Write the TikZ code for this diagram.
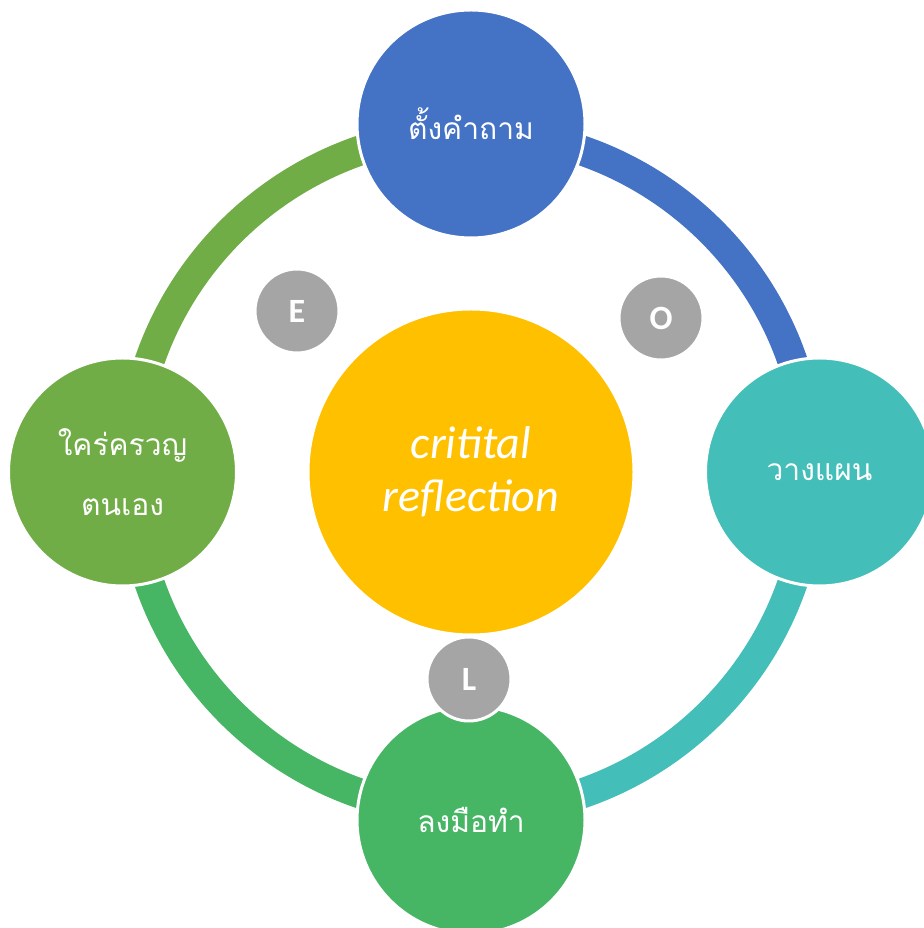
\documentclass[tikz,border=0pt]{standalone}
\usepackage{fontspec}
\setmainfont{Carlito}
\newfontfamily\thaifont[Script=Thai]{Loma}
\usepackage{tikz}
\usetikzlibrary{positioning,backgrounds}
\definecolor{askblue}{HTML}{4472C4}
\definecolor{planteal}{HTML}{43BEB8}
\definecolor{dogreen}{HTML}{46B665}
\definecolor{selfgreen}{HTML}{70AD47}
\definecolor{hubyellow}{HTML}{FFC000}
\definecolor{lettergray}{HTML}{A5A5A5}

\begin{document}
\begin{tikzpicture}[x=1pt,y=1pt,node distance=348pt]
	\tikzstyle{stage}=[circle,draw=white,line width=3pt,minimum size=228pt,inner sep=0pt,
		text=white,align=center,font=\thaifont\fontsize{30}{60}\selectfont]
	\tikzstyle{letter}=[circle,fill=lettergray,draw=white,line width=3pt,minimum size=84pt,
		inner sep=0pt,text=white,font=\bfseries\fontsize{34}{34}\selectfont]
	\tikzstyle{ring}=[line width=30pt]
	
	\useasboundingbox (0,0) rectangle (923,928);
	
	\node[circle,fill=hubyellow,draw=white,line width=3pt,minimum size=326pt,inner sep=0pt,
		text=white,align=center,font=\itshape\fontsize{46}{53}\selectfont] (hub) at (471,456) {critital\\reflection};
	
	\node[stage,fill=askblue]    (ask)[above of = hub]		{ตั้งคำถาม};
	
	\node[stage,fill=planteal]   (plan)[right of = hub, xshift=0.5pt]		{วางแผน};
	
	\node[stage,fill=dogreen]    (do)[below of = hub]		{ลงมือทำ};
	
	\node[stage,fill=selfgreen]  (self)[left of = hub, xshift=-0.5pt]		{ใคร่ครวญ\\ตนเอง};
	
	\node[letter]    (E) at (297,617)		{E};
	
	\node[letter]    (O) at (661,610)		{O};
	
	\node[letter]    (L) at (469,249)		{L};
	
	\begin{pgfonlayer}{background}
	\draw[ring,selfgreen] (hub.center) ++(180:340) arc[start angle=180,end angle=90,radius=340];
	\draw[ring,askblue] (hub.center) ++(90:340) arc[start angle=90,end angle=0,radius=340];
	\draw[ring,planteal] (hub.center) ++(0:340) arc[start angle=0,end angle=-90,radius=340];
	\draw[ring,dogreen] (hub.center) ++(-90:340) arc[start angle=-90,end angle=-180,radius=340];
	\end{pgfonlayer}
\end{tikzpicture}
\end{document}
